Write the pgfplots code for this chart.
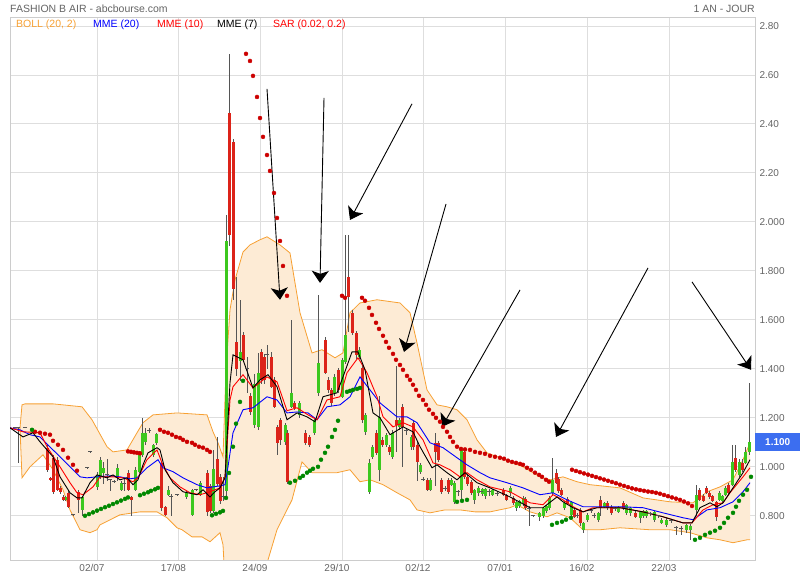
\documentclass[border=0pt]{standalone}
\usepackage{fontspec}
\setmainfont{Liberation Sans}
\usepackage{pgfplots}
\usepackage{pgfplotstable}
\pgfplotsset{compat=1.18}
\usepgfplotslibrary{fillbetween}
\usetikzlibrary{arrows.meta}

\definecolor{bandline}{RGB}{247,160,50}
\definecolor{bandfill}{RGB}{253,235,213}
\definecolor{upgreen}{RGB}{60,200,30}
\definecolor{downred}{RGB}{220,35,25}
\definecolor{wick}{RGB}{85,85,85}
\definecolor{sarred}{RGB}{204,0,0}
\definecolor{sargreen}{RGB}{0,136,0}
\definecolor{txtgray}{RGB}{100,100,100}
\definecolor{gridgray}{RGB}{222,222,222}
\definecolor{framegray}{RGB}{204,204,204}
\definecolor{lastbox}{RGB}{60,110,240}

% candles: x = bar position, o h l c = open high low close
\pgfplotstableread{
x o h l c
65 0.865 0.880 0.860 0.877
82 0.824 0.880 0.800 0.877
97 0.918 0.980 0.906 0.967
100 0.959 1.040 0.950 1.029
103 0.976 1.020 0.930 0.996
117 0.955 1.010 0.940 0.996
121 0.906 0.940 0.900 0.935
135 0.906 1.000 0.900 0.988
139 0.980 1.065 0.975 1.060
142 1.049 1.200 1.040 1.139
145 1.100 1.160 1.090 1.140
153 1.050 1.095 1.040 1.090
156 1.098 1.140 1.090 1.135
168 0.886 0.920 0.880 0.906
186 0.877 0.900 0.870 0.894
192 0.804 0.910 0.800 0.906
200 0.886 0.940 0.880 0.935
213 0.820 1.070 0.810 0.990
226 0.900 2.030 0.880 1.920
240 1.430 1.680 1.350 1.470
254 1.170 1.380 1.160 1.340
258 1.163 1.465 1.150 1.384
285 1.100 1.180 1.090 1.170
291 1.245 1.600 1.240 1.302
299 1.210 1.270 1.200 1.260
314 1.139 1.200 1.130 1.192
318 1.302 1.700 1.290 1.424
334 1.302 1.380 1.290 1.367
342 1.286 1.445 1.280 1.437
345 1.429 1.947 1.420 1.539
359 1.449 1.490 1.440 1.478
365 1.143 1.220 1.130 1.212
369 0.898 1.030 0.890 1.016
372 1.041 1.090 1.030 1.082
379 0.988 1.290 0.940 1.204
386 1.090 1.140 1.080 1.131
392 1.041 1.150 1.030 1.139
399 1.163 1.200 1.150 1.192
411 1.082 1.130 1.070 1.122
420 0.980 1.015 0.970 1.008
430 0.906 0.955 0.900 0.947
451 0.927 0.955 0.920 0.947
454 0.857 0.940 0.850 0.935
461 0.906 1.080 0.860 1.069
474 0.865 0.910 0.850 0.906
478 0.894 0.920 0.880 0.914
482 0.890 0.915 0.880 0.910
485 0.880 0.915 0.870 0.910
492 0.886 0.910 0.880 0.906
510 0.894 0.920 0.880 0.914
516 0.833 0.860 0.820 0.857
519 0.840 0.865 0.830 0.860
523 0.853 0.880 0.840 0.873
539 0.796 0.815 0.780 0.812
543 0.800 0.835 0.790 0.830
546 0.820 0.845 0.810 0.840
549 0.833 0.880 0.825 0.873
552 0.894 1.037 0.880 0.947
564 0.833 0.860 0.825 0.853
571 0.804 0.860 0.795 0.857
583 0.743 0.775 0.730 0.771
587 0.784 0.810 0.775 0.804
598 0.784 0.815 0.775 0.812
604 0.837 0.857 0.830 0.853
618 0.816 0.840 0.810 0.837
626 0.812 0.850 0.805 0.845
630 0.810 0.835 0.800 0.830
640 0.792 0.820 0.770 0.816
643 0.800 0.825 0.790 0.820
646 0.800 0.825 0.790 0.820
654 0.784 0.820 0.775 0.816
661 0.771 0.790 0.765 0.784
666 0.763 0.790 0.755 0.784
686 0.743 0.766 0.730 0.763
690 0.740 0.765 0.700 0.760
696 0.824 0.927 0.800 0.886
719 0.865 0.900 0.860 0.894
722 0.860 0.885 0.850 0.880
725 0.886 0.920 0.880 0.914
732 0.927 1.090 0.920 1.020
739 0.967 1.030 0.960 1.020
745 1.016 1.080 1.010 1.061
749 1.061 1.343 1.050 1.100
}\upcandles

\pgfplotstableread{
x o h l c
47 1.077 1.090 0.980 0.988
50 0.955 0.960 0.940 0.945
53 1.037 1.050 0.890 0.898
57 1.029 1.040 0.900 0.906
60 0.914 0.920 0.890 0.898
63 0.877 0.885 0.860 0.865
68 0.894 0.900 0.830 0.837
78 0.898 0.905 0.810 0.865
128 0.976 0.985 0.900 0.906
131 0.877 0.880 0.800 0.865
161 1.016 1.025 0.820 0.833
165 0.837 0.840 0.800 0.804
207 0.976 0.985 0.800 0.816
210 0.920 0.930 0.810 0.820
217 1.030 1.122 0.920 0.930
220 0.960 0.970 0.850 0.860
229 2.445 2.686 1.900 1.947
233 2.327 2.340 1.680 1.727
236 1.510 1.775 1.370 1.400
243 1.539 1.550 1.430 1.437
250 1.290 1.300 1.210 1.224
261 1.469 1.480 1.340 1.355
264 1.449 1.460 1.340 1.355
271 1.449 1.470 1.320 1.327
274 1.355 1.365 1.240 1.245
277 1.163 1.170 1.050 1.098
280 1.192 1.200 1.090 1.110
287 1.139 1.150 0.930 0.939
294 1.261 1.270 1.230 1.241
305 1.139 1.150 1.090 1.098
309 1.122 1.130 1.080 1.090
325 1.518 1.530 1.380 1.384
328 1.355 1.365 1.300 1.314
331 1.314 1.320 1.250 1.261
338 1.396 1.405 1.300 1.314
348 1.775 1.947 1.550 1.694
352 1.629 1.640 1.540 1.547
356 1.547 1.555 1.440 1.457
362 1.404 1.415 1.180 1.192
376 1.139 1.150 1.050 1.057
382 1.110 1.120 1.080 1.090
389 1.080 1.090 1.050 1.060
396 1.192 1.410 1.060 1.171
402 1.245 1.255 1.000 1.163
413 1.180 1.190 1.070 1.082
417 1.090 1.100 0.940 1.020
427 0.947 0.955 0.900 0.906
435 1.098 1.140 0.920 1.061
438 1.098 1.105 1.020 1.029
441 0.947 0.955 0.890 0.898
448 0.947 0.955 0.890 0.898
464 1.061 1.070 0.950 0.959
467 0.960 0.965 0.920 0.930
471 0.939 0.945 0.885 0.894
503 0.906 0.912 0.880 0.886
506 0.886 0.890 0.860 0.865
513 0.873 0.880 0.845 0.853
525 0.870 0.875 0.825 0.830
556 0.976 0.990 0.930 0.935
558 0.950 0.960 0.895 0.900
561 0.906 0.912 0.880 0.886
567 0.870 0.875 0.845 0.850
574 0.824 0.830 0.790 0.796
580 0.824 0.830 0.760 0.771
600 0.865 0.880 0.800 0.833
607 0.853 0.860 0.825 0.833
611 0.837 0.845 0.805 0.812
623 0.853 0.860 0.825 0.833
635 0.812 0.820 0.790 0.796
699 0.906 0.915 0.860 0.865
703 0.880 0.890 0.855 0.860
706 0.914 0.920 0.890 0.894
709 0.894 0.900 0.870 0.877
712 0.880 0.885 0.855 0.860
716 0.857 0.860 0.780 0.796
728 0.927 0.935 0.890 0.894
735 1.037 1.090 0.980 0.988
742 1.016 1.030 0.980 0.988
}\downcandles

\pgfplotstableread{
x c h l
15 1.159 1.159 1.159
18 1.159 1.159 1.016
25 1.159 1.159 1.159
73 0.804 0.806 0.802
87 0.996 0.998 0.994
90 1.061 1.063 1.059
107 0.967 1.030 0.940
110 0.947 0.950 0.900
114 0.939 0.945 0.935
124 0.930 0.950 0.900
149 1.150 1.160 1.140
171 0.880 0.890 0.800
177 0.886 0.888 0.884
196 0.906 0.910 0.900
223 0.880 0.960 0.860
247 1.400 1.450 1.300
267 1.460 1.498 1.400
406 1.150 1.160 1.130
423 0.950 0.960 0.940
445 0.910 0.920 0.900
458 0.900 0.905 0.880
481 0.900 0.910 0.890
489 0.900 0.910 0.880
497 0.890 0.900 0.880
529 0.830 0.840 0.760
533 0.800 0.805 0.795
577 0.800 0.810 0.790
591 0.820 0.825 0.810
594 0.800 0.810 0.790
615 0.830 0.835 0.820
650 0.810 0.815 0.800
658 0.800 0.805 0.790
671 0.780 0.785 0.770
676 0.751 0.760 0.720
681 0.750 0.760 0.720
}\dojis

\begin{document}
\begin{tikzpicture}
\begin{axis}[
    at={(10pt,20pt)}, anchor=south west,
    width=745pt, height=543pt, scale only axis,
    set layers,
    xmin=10, xmax=755, ymin=0.6195, ymax=2.8365,
    axis line style={framegray},
    grid=major, grid style={gridgray, line width=0.8pt},
    xtick={97,178.5,260,342,423,505,587,669},
    xticklabels={02/07,17/08,24/09,29/10,02/12,07/01,16/02,22/03},
    ytick={0.8,1,1.2,1.4,1.6,1.8,2,2.2,2.4,2.6,2.8},
    yticklabels={0.800,1.000,1.200,1.400,1.600,1.800,2.000,2.20,2.40,2.60,2.80},
    ytick pos=right, yticklabel pos=right,
    major tick length=0pt,
    tick label style={font=\fontsize{10}{12}\selectfont, text=txtgray},
    xticklabel style={xshift=-5pt, yshift=-1pt},
    yticklabel style={xshift=1pt},
    /pgf/number format/assume math mode=true,
    wickbar/.style={draw=none, mark=none, error bars/.cd, y dir=both, y explicit, error mark=none,
        error bar style={draw=wick, line width=0.8pt}},
    bodybar/.style={draw=none, mark=none, error bars/.cd, y dir=both, y explicit, error mark=none,
        error bar style={draw=#1, line width=3pt}},
]

% Bollinger (20, 2)
\addplot[bandline, line width=0.8pt, name path=upper] coordinates {
(15,1.159)(20,1.159)(22,1.253)(25,1.257)(53,1.257)(82,1.245)(92,1.192)(107,1.082)
(113,1.061)(127,1.069)(137,1.139)(143,1.180)(153,1.212)(177,1.220)(207,1.212)
(213,1.143)(218,1.098)(223,1.041)(226,1.396)(230,1.641)(235,1.763)(243,1.877)
(250,1.906)(260,1.927)(267,1.939)(280,1.906)(290,1.873)(300,1.629)(312,1.465)
(322,1.478)(335,1.445)(343,1.465)(350,1.629)(360,1.669)(377,1.682)(400,1.669)
(410,1.629)(417,1.506)(427,1.314)(437,1.253)(447,1.245)(457,1.233)(467,1.192)
(477,1.110)(487,1.057)(500,1.037)(523,1.000)(540,0.959)(550,0.947)(563,0.959)
(577,0.939)(590,0.927)(620,0.914)(643,0.873)(670,0.857)(693,0.853)(707,0.898)
(720,0.918)(733,0.947)(743,1.029)(750,1.098)
};
\addplot[bandline, line width=0.8pt, name path=lower] coordinates {
(15,1.159)(20,1.159)(22,0.955)(30,1.000)(43,1.049)(53,0.988)(63,0.906)(70,0.824)
(80,0.743)(90,0.731)(97,0.743)(100,0.763)(120,0.804)(140,0.816)(157,0.816)
(167,0.792)(177,0.751)(182,0.743)(192,0.714)(202,0.714)(210,0.694)(220,0.731)
(223,0.682)(226,0.450)(240,0.360)(255,0.420)(265,0.560)(268,0.620)(277,0.743)
(292,0.865)(302,1.020)(312,0.976)(337,0.976)(350,0.988)(360,0.939)(370,0.947)
(383,0.927)(397,0.894)(410,0.865)(417,0.824)(430,0.812)(445,0.824)(460,0.824)
(475,0.816)(490,0.816)(510,0.833)(517,0.845)(530,0.816)(547,0.796)(557,0.812)
(570,0.792)(583,0.743)(600,0.743)(620,0.751)(650,0.743)(670,0.743)(690,0.731)
(707,0.710)(720,0.702)(733,0.690)(747,0.702)(750,0.702)
};
\addplot[bandfill, on layer=axis background] fill between[of=upper and lower];

% candle wicks
\addplot[wickbar] table[x=x, y expr={(\thisrow{h}+\thisrow{l})/2}, y error expr={(\thisrow{h}-\thisrow{l})/2}] {\upcandles};
\addplot[wickbar] table[x=x, y expr={(\thisrow{h}+\thisrow{l})/2}, y error expr={(\thisrow{h}-\thisrow{l})/2}] {\downcandles};
\addplot[wickbar] table[x=x, y expr={(\thisrow{h}+\thisrow{l})/2}, y error expr={(\thisrow{h}-\thisrow{l})/2}] {\dojis};
\addplot[only marks, mark=-, mark size=2.2pt, mark options={draw=wick, line width=0.9pt}]
    table[x=x, y=c] {\dojis};

% candle bodies
\addplot[bodybar=upgreen] table[x=x, y expr={(\thisrow{o}+\thisrow{c})/2},
    y error expr={max(abs(\thisrow{c}-\thisrow{o})/2,0.004)}] {\upcandles};
\addplot[bodybar=downred] table[x=x, y expr={(\thisrow{o}+\thisrow{c})/2},
    y error expr={max(abs(\thisrow{c}-\thisrow{o})/2,0.004)}] {\downcandles};

% MME (20)
\addplot[blue, line width=0.9pt] coordinates {
(10,1.159)(20,1.151)(30,1.131)(40,1.122)(53,1.069)(63,1.029)(73,0.988)(80,0.959)
(87,0.955)(97,0.959)(110,0.963)(120,0.959)(130,0.951)(137,0.955)(147,0.996)
(158,1.029)(163,0.996)(173,0.980)(183,0.955)(197,0.927)(207,0.914)(213,0.918)
(220,0.922)(225,0.927)(228,1.000)(233,1.139)(243,1.233)(253,1.241)(267,1.286)
(277,1.273)(287,1.220)(297,1.224)(308,1.220)(317,1.192)(327,1.245)(340,1.253)
(350,1.286)(360,1.367)(370,1.314)(380,1.261)(397,1.204)(407,1.204)(417,1.180)
(430,1.098)(443,1.078)(457,1.037)(467,1.008)(480,0.976)(490,0.955)(507,0.935)
(523,0.914)(540,0.886)(553,0.894)(567,0.865)(583,0.837)(620,0.837)(643,0.833)
(663,0.812)(683,0.792)(693,0.784)(707,0.824)(720,0.833)(733,0.857)(743,0.898)
(750,0.935)
};
% MME (10)
\addplot[red, line width=0.9pt] coordinates {
(10,1.159)(23,1.143)(40,1.139)(47,1.082)(60,1.000)(70,0.935)(77,0.894)(83,0.886)
(93,0.918)(100,0.959)(113,0.959)(123,0.955)(133,0.939)(138,0.955)(147,1.029)
(157,1.069)(162,1.016)(170,0.955)(180,0.918)(190,0.894)(200,0.886)(210,0.898)
(220,0.914)(225,0.959)(230,1.273)(233,1.327)(243,1.376)(253,1.322)(267,1.367)
(277,1.347)(287,1.229)(297,1.241)(308,1.212)(317,1.192)(327,1.273)(340,1.286)
(347,1.384)(358,1.445)(367,1.384)(377,1.286)(383,1.204)(393,1.163)(403,1.180)
(413,1.163)(423,1.110)(433,1.016)(440,1.008)(450,0.988)(460,0.959)(467,0.976)
(477,0.947)(490,0.918)(510,0.898)(530,0.853)(543,0.845)(553,0.886)(563,0.865)
(573,0.837)(583,0.816)(593,0.833)(620,0.833)(643,0.816)(663,0.796)(683,0.771)
(692,0.771)(703,0.824)(713,0.845)(723,0.853)(730,0.894)(743,0.959)(750,0.996)
};
% MME (7)
\addplot[black, line width=0.9pt] coordinates {
(10,1.159)(23,1.122)(33,1.139)(40,1.102)(53,1.041)(60,0.959)(70,0.894)(77,0.873)
(82,0.873)(90,0.935)(97,0.967)(107,0.955)(113,0.967)(120,0.947)(127,0.955)
(133,0.927)(138,0.947)(143,1.008)(148,1.057)(157,1.078)(160,1.069)(165,0.988)
(173,0.935)(183,0.898)(197,0.886)(203,0.906)(210,0.877)(215,0.898)(220,0.914)
(225,0.955)(230,1.343)(233,1.457)(243,1.437)(253,1.322)(260,1.355)(268,1.376)
(277,1.327)(287,1.192)(297,1.220)(307,1.204)(315,1.184)(323,1.286)(337,1.302)
(343,1.367)(352,1.469)(358,1.469)(365,1.396)(373,1.220)(380,1.200)(390,1.131)
(403,1.163)(413,1.143)(420,1.082)(432,0.996)(437,1.008)(447,0.976)(457,0.947)
(465,0.976)(477,0.935)(490,0.914)(510,0.877)(530,0.833)(543,0.833)(557,0.877)
(563,0.857)(573,0.833)(583,0.816)(597,0.833)(620,0.833)(643,0.816)(663,0.796)
(683,0.771)(692,0.771)(700,0.833)(710,0.853)(717,0.837)(723,0.853)(733,0.914)
(743,0.976)(750,1.029)
};

% SAR (0.02, 0.2) above the price
\addplot[only marks, mark=*, mark size=2pt, sarred] coordinates {
(35,1.143)(40,1.139)(45,1.135)(50,1.131)(53,1.106)(58,1.090)(63,1.069)(68,1.037)
(73,1.008)(77,0.984)
(128,1.063)(131,1.061)(134,1.059)(137,1.057)(140,1.055)
(160,1.151)(164,1.143)(168,1.139)(172,1.131)(176,1.122)(180,1.118)(183,1.110)
(187,1.102)(192,1.098)(195,1.090)(199,1.082)(203,1.078)(207,1.069)(210,1.061)
(246,2.686)(250,2.657)(253,2.596)(257,2.510)(260,2.424)(263,2.347)(267,2.273)
(270,2.208)(274,2.118)(277,2.016)(280,1.922)(283,1.820)(287,1.698)
(342,1.698)(345,1.690)
(362,1.690)(365,1.678)(369,1.649)(372,1.620)(376,1.588)(379,1.563)(383,1.535)
(386,1.510)(389,1.486)(393,1.461)(396,1.437)(400,1.416)(403,1.396)(407,1.371)
(410,1.355)(413,1.335)(416,1.314)(419,1.290)(423,1.273)(426,1.253)(429,1.233)
(433,1.216)(436,1.200)(440,1.184)(443,1.163)(447,1.143)(450,1.122)(453,1.102)
(457,1.082)(461,1.073)(465,1.071)(470,1.069)(475,1.061)(480,1.057)(485,1.053)
(490,1.045)(495,1.041)(500,1.037)(504,1.033)(508,1.025)(512,1.020)(516,1.016)
(520,1.012)(523,1.008)(527,0.996)(531,0.988)(535,0.976)(539,0.967)(542,0.959)
(546,0.947)(549,0.939)
(572,0.988)(576,0.983)(580,0.978)(584,0.973)(588,0.968)(592,0.963)(596,0.958)
(600,0.953)(604,0.948)(608,0.943)(612,0.938)(616,0.933)(620,0.927)(624,0.922)
(628,0.917)(632,0.912)(636,0.908)(640,0.905)(644,0.902)(648,0.899)(652,0.897)
(656,0.894)(660,0.890)(664,0.885)(668,0.880)(672,0.875)(676,0.870)(680,0.865)
(684,0.858)(688,0.851)(692,0.840)
};
% SAR below the price
\addplot[only marks, mark=*, mark size=2pt, sargreen] coordinates {
(32,1.151)
(85,0.800)(89,0.807)(93,0.814)(97,0.821)(101,0.828)(105,0.835)(109,0.841)
(113,0.848)(117,0.855)(121,0.862)(125,0.869)(128,0.875)
(140,0.884)(144,0.890)(148,0.896)(151,0.902)(155,0.908)(158,0.914)
(212,0.802)(216,0.808)(220,0.814)(223,0.820)(226,0.873)(229,0.975)(233,1.082)
(236,1.176)(240,1.265)(243,1.351)
(290,0.935)(295,0.943)(300,0.955)(303,0.963)(307,0.976)(310,0.984)(313,0.992)
(318,1.000)(321,1.029)(325,1.057)(328,1.082)(332,1.122)(335,1.151)(338,1.188)
(347,1.306)(350,1.310)(353,1.314)(357,1.318)(360,1.322)
(457,0.857)(462,0.861)(467,0.865)
(552,0.763)(557,0.771)(562,0.776)(566,0.784)(571,0.792)
(695,0.702)(700,0.710)(705,0.722)(710,0.731)(715,0.739)(720,0.751)(724,0.771)
(728,0.792)(733,0.812)(736,0.837)(739,0.861)(743,0.886)(747,0.906)(751,0.959)
};

% hand drawn arrows
\pgfplotsset{arrowstyle/.style={black, line width=0.9pt, -{Stealth[length=12pt, width=17pt, inset=3pt]}}}
\addplot[arrowstyle] coordinates {(267,2.543)(280,1.682)};
\addplot[arrowstyle] coordinates {(324,2.506)(320,1.751)};
\addplot[arrowstyle] coordinates {(412,2.482)(350,2.008)};
\addplot[arrowstyle] coordinates {(446,2.073)(404,1.469)};
\addplot[arrowstyle] coordinates {(520,1.722)(442,1.163)};
\addplot[arrowstyle] coordinates {(648,1.812)(556,1.122)};
\addplot[arrowstyle] coordinates {(692,1.755)(751,1.396)};
\end{axis}

% header and legend
\node[anchor=west, text=txtgray, font=\fontsize{10.5}{12}\selectfont, inner sep=0pt] at (10pt,571pt) {FASHION B AIR - abcbourse.com};
\node[anchor=east, text=txtgray, font=\fontsize{10.5}{12}\selectfont, inner sep=0pt] at (755pt,571pt) {1 AN - JOUR};
\begin{scope}[every node/.style={anchor=west, inner sep=0pt, font=\fontsize{10.5}{12}\selectfont}]
\node[text=bandline] at (16pt,555pt) {BOLL (20, 2)};
\node[text=blue] at (93pt,555pt) {MME (20)};
\node[text=red] at (157pt,555pt) {MME (10)};
\node[text=black] at (217pt,555pt) {MME (7)};
\node[text=red] at (273pt,555pt) {SAR (0.02, 0.2)};
\end{scope}
% last price
\node[anchor=west, fill=lastbox, text=white, font=\bfseries\fontsize{10}{12}\selectfont,
      minimum width=45pt, minimum height=18pt, inner sep=0pt] at (755pt,138pt) {1.100};
\pgfresetboundingbox
\path (0pt,0pt) rectangle (800pt,580pt);
\end{tikzpicture}
\end{document}
